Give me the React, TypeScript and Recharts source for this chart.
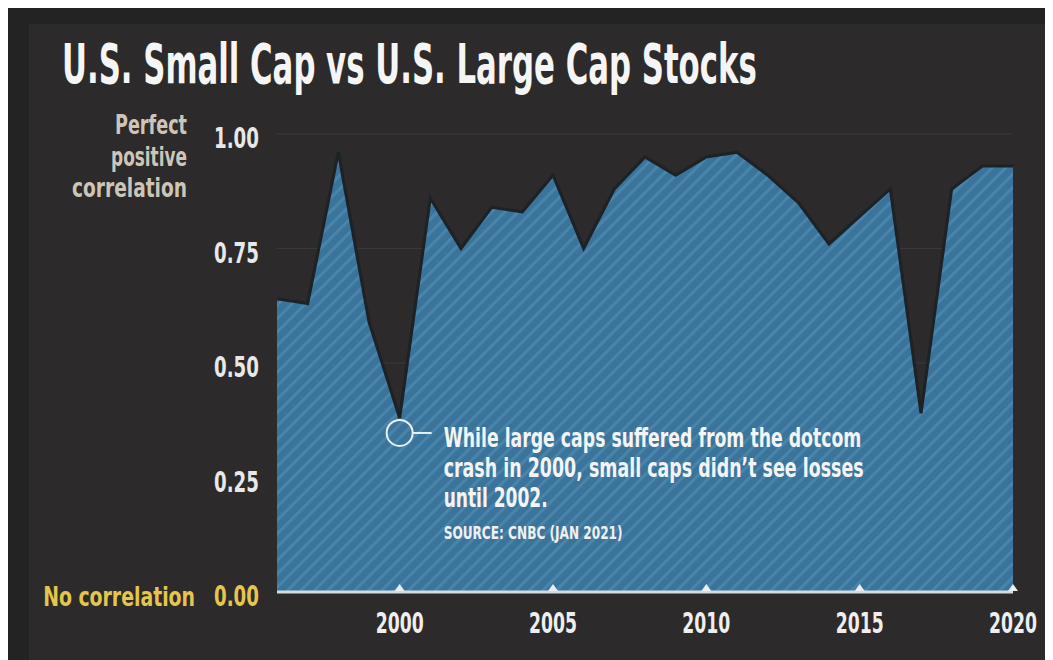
import React from 'react';
import { AreaChart, Area, XAxis, YAxis, CartesianGrid, ReferenceDot } from 'recharts';

const FONT = "'DejaVu Sans Condensed', 'DejaVu Sans', 'Liberation Sans', sans-serif";

const years = [1996, 1997, 1998, 1999, 2000, 2001, 2002, 2003, 2004, 2005, 2006, 2007, 2008, 2009, 2010, 2011, 2012, 2013, 2014, 2015, 2016, 2017, 2018, 2019, 2020];
const correlation = [0.64, 0.63, 0.96, 0.59, 0.38, 0.86, 0.75, 0.84, 0.83, 0.91, 0.75, 0.88, 0.95, 0.91, 0.95, 0.96, 0.91, 0.85, 0.76, 0.82, 0.88, 0.39, 0.88, 0.93, 0.93];
const xTicks = [2000, 2005, 2010, 2015, 2020];
const yTicks = [0, 0.25, 0.5, 0.75, 1];
const topNote = ['Perfect', 'positive', 'correlation'];
const topNoteWidths = [72, 76, 115];
const bottomNote = 'No correlation';
const title = 'U.S. Small Cap vs U.S. Large Cap Stocks';
const annotationYear = 2000;
const annotationLines = ['While large caps suffered from the dotcom', "crash in 2000, small caps didn\u2019t see losses", 'until 2002.'];
const annotationWidths = [418, 420, 104];
const source = 'SOURCE: CNBC (JAN 2021)';

const data = years.map((year, i) => ({ year, value: correlation[i] }));
const annotationValue = correlation[years.indexOf(annotationYear)];

let measureCtx: CanvasRenderingContext2D | null = null;
function measure(text: string, size: number): number {
  if (typeof document === 'undefined') return text.length * size * 0.5;
  if (!measureCtx) measureCtx = document.createElement('canvas').getContext('2d');
  if (!measureCtx) return text.length * size * 0.5;
  measureCtx.font = `700 ${size}px ${FONT}`;
  return measureCtx.measureText(text).width || text.length * size * 0.5;
}

type FitProps = { x: number; y: number; width: number; size: number; fill: string; anchor?: 'start' | 'middle' | 'end'; text: string };
const FitText = ({ x, y, width, size, fill, anchor = 'start', text }: FitProps) => {
  const natural = measure(text, size);
  const s = width / natural;
  return (
    <text
      transform={`translate(${x},${y}) scale(${s},1)`}
      x={0}
      y={0}
      textAnchor={anchor}
      fill={fill}
      fontSize={size}
      fontWeight={700}
      fontFamily={FONT}
    >
      {text}
    </text>
  );
};

const XTick = (props: any) => {
  const { x, y, payload } = props;
  return (
    <g>
      <polygon points={`${x - 5},${y - 1} ${x + 5},${y - 1} ${x},${y - 8}`} fill="#e9eef1" />
      <FitText x={x} y={y + 41} width={48} size={29} fill="#eeeeee" anchor="middle" text={String(payload.value)} />
    </g>
  );
};

const YTick = (props: any) => {
  const { x, y, payload } = props;
  const v = payload.value as number;
  const isZero = v === 0;
  const isOne = v === 1;
  return (
    <g>
      <FitText x={x} y={y + 14} width={45} size={28} fill={isZero ? '#e4c64f' : '#e8e8e8'} anchor="end" text={v.toFixed(2)} />
      {isOne &&
        topNote.map((t, i) => (
          <FitText key={t} x={x - 72} y={y + i * 31.5} width={topNoteWidths[i]} size={27} fill="#cdc6b8" anchor="end" text={t} />
        ))}
      {isZero && <FitText x={x - 64} y={y + 14} width={152} size={27} fill="#e4c64f" anchor="end" text={bottomNote} />}
    </g>
  );
};

const AnnotationShape = (props: any) => {
  const { cx, cy } = props;
  if (cx == null || cy == null) return null;
  return (
    <g>
      <circle cx={cx} cy={cy + 15} r={13} fill="none" stroke="#e8f0f5" strokeWidth={2} />
      <line x1={cx + 13} y1={cy + 15} x2={cx + 32} y2={cy + 15} stroke="#e8f0f5" strokeWidth={2} />
      {annotationLines.map((t, i) => (
        <FitText key={i} x={cx + 44} y={cy + 29 + i * 30} width={annotationWidths[i]} size={27} fill="#f4f4f4" text={t} />
      ))}
      <FitText x={cx + 44} y={cy + 121} width={179} size={18} fill="#f0f0f0" text={source} />
    </g>
  );
};

export default function App() {
  return (
    <div style={{ position: 'relative', width: 1045, height: 652, background: '#232323', overflow: 'hidden' }}>
      <div style={{ position: 'absolute', left: 21, top: 16, right: 0, bottom: 0, background: '#2c2a2a' }} />
      <div style={{ position: 'absolute', left: 0, top: 0 }}>
        <AreaChart width={1045} height={652} data={data} margin={{ top: 126, right: 40, left: 0, bottom: 18 }}>
          <defs>
            <pattern id="stripes" patternUnits="userSpaceOnUse" width="9.5" height="9.5" patternTransform="rotate(45)">
              <rect width="9.5" height="9.5" fill="#3a749b" />
              <rect width="3" height="9.5" fill="#4984ab" />
            </pattern>
          </defs>
          <CartesianGrid vertical={false} stroke="#3a3838" strokeWidth={1} />
          <XAxis
            dataKey="year"
            type="number"
            domain={[1996, 2020]}
            ticks={xTicks}
            height={50}
            tickLine={false}
            tickSize={0}
            tickMargin={0}
            axisLine={{ stroke: '#d3dce1', strokeWidth: 3 }}
            tick={<XTick />}
            interval={0}
          />
          <YAxis
            type="number"
            domain={[0, 1]}
            ticks={yTicks}
            width={269}
            axisLine={false}
            tickLine={false}
            tickSize={0}
            tickMargin={18}
            tick={<YTick />}
            interval={0}
          />
          <Area
            type="linear"
            dataKey="value"
            stroke="#1c2226"
            strokeWidth={3}
            fill="url(#stripes)"
            fillOpacity={1}
            isAnimationActive={false}
          />
          <ReferenceDot x={annotationYear} y={annotationValue} shape={<AnnotationShape />} />
        </AreaChart>
      </div>
      <svg style={{ position: 'absolute', left: 0, top: 0 }} width={1045} height={110}>
        <FitText x={54} y={75} width={695} size={56} fill="#f5f5f5" text={title} />
      </svg>
    </div>
  );
}
